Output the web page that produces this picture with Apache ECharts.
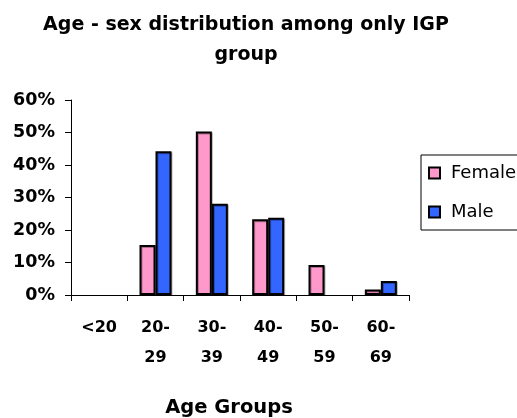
<!DOCTYPE html>
<html><head><meta charset="utf-8">
<script src="https://cdn.jsdelivr.net/npm/echarts@6/dist/echarts.min.js"></script>
<style>html,body{margin:0;padding:0;background:#fff}#c{width:517px;height:418px}</style>
</head><body><div id="c"></div>
<script>
const categories = ['<20', '20-\n29', '30-\n39', '40-\n49', '50-\n59', '60-\n69'];
const female = [0, 15.4, 50.3, 23.3, 9.2, 1.7];
const male = [0, 44.2, 28.1, 23.8, 0, 4.3];
const yTicks = [0, 10, 20, 30, 40, 50, 60];

const chart = echarts.init(document.getElementById('c'), null, {renderer: 'canvas'});
const F = '"DejaVu Sans", Arial, sans-serif';
const barStyle = (c) => ({color: c, borderColor: '#000', borderWidth: 2,
  shadowColor: 'rgba(0,0,0,0.3)', shadowOffsetX: 1, shadowOffsetY: 1, shadowBlur: 0});
const noZero = arr => arr.map(v => v === 0 ? null : v);
chart.setOption({
  animation: false,
  title: [{
    text: 'Age - sex distribution among only IGP\ngroup',
    left: 241, top: 5, textAlign: 'center',
    textStyle: {fontFamily: F, fontSize: 19, fontWeight: 'bold', color: '#000', lineHeight: 30}
  }, {
    text: 'Age Groups', left: 224, top: 393, textAlign: 'center',
    textStyle: {fontFamily: F, fontSize: 19.5, fontWeight: 'bold', color: '#000'}
  }],
  legend: {
    orient: 'vertical', left: 421, top: 155, width: 130,
    data: ['Female', 'Male'],
    itemWidth: 11, itemHeight: 11, itemGap: 21, icon: 'rect',
    padding: [9, 20, 9, 7],
    borderColor: '#000', borderWidth: 1,
    textStyle: {fontFamily: F, fontSize: 18, color: '#000', padding: [0, 0, 0, 6]}
  },
  grid: {left: 71, top: 100, width: 338, height: 195},
  xAxis: {
    type: 'category', data: categories,
    axisLine: {lineStyle: {color: '#000', width: 1}},
    axisTick: {show: true, length: 6, lineStyle: {color: '#000'}},
    axisLabel: {fontFamily: F, fontSize: 16, fontWeight: 'bold', color: '#000', lineHeight: 30, margin: 18, interval: 0}
  },
  yAxis: {
    type: 'value', min: 0, max: 60, interval: 10,
    splitLine: {show: false},
    axisLine: {show: true, lineStyle: {color: '#000', width: 1}},
    axisTick: {show: true, length: 6, lineStyle: {color: '#000'}},
    axisLabel: {fontFamily: F, fontSize: 17.5, fontWeight: 'bold', color: '#000', margin: 16,
      formatter: v => yTicks.includes(v) ? v + '%' : ''}
  },
  series: [
    {name: 'Female', type: 'bar', data: noZero(female), barWidth: 16, barGap: '0%', itemStyle: barStyle('#FF99CC')},
    {name: 'Male', type: 'bar', data: noZero(male), barWidth: 16, barGap: '0%', itemStyle: barStyle('#3366FF')}
  ]
});
</script></body></html>
